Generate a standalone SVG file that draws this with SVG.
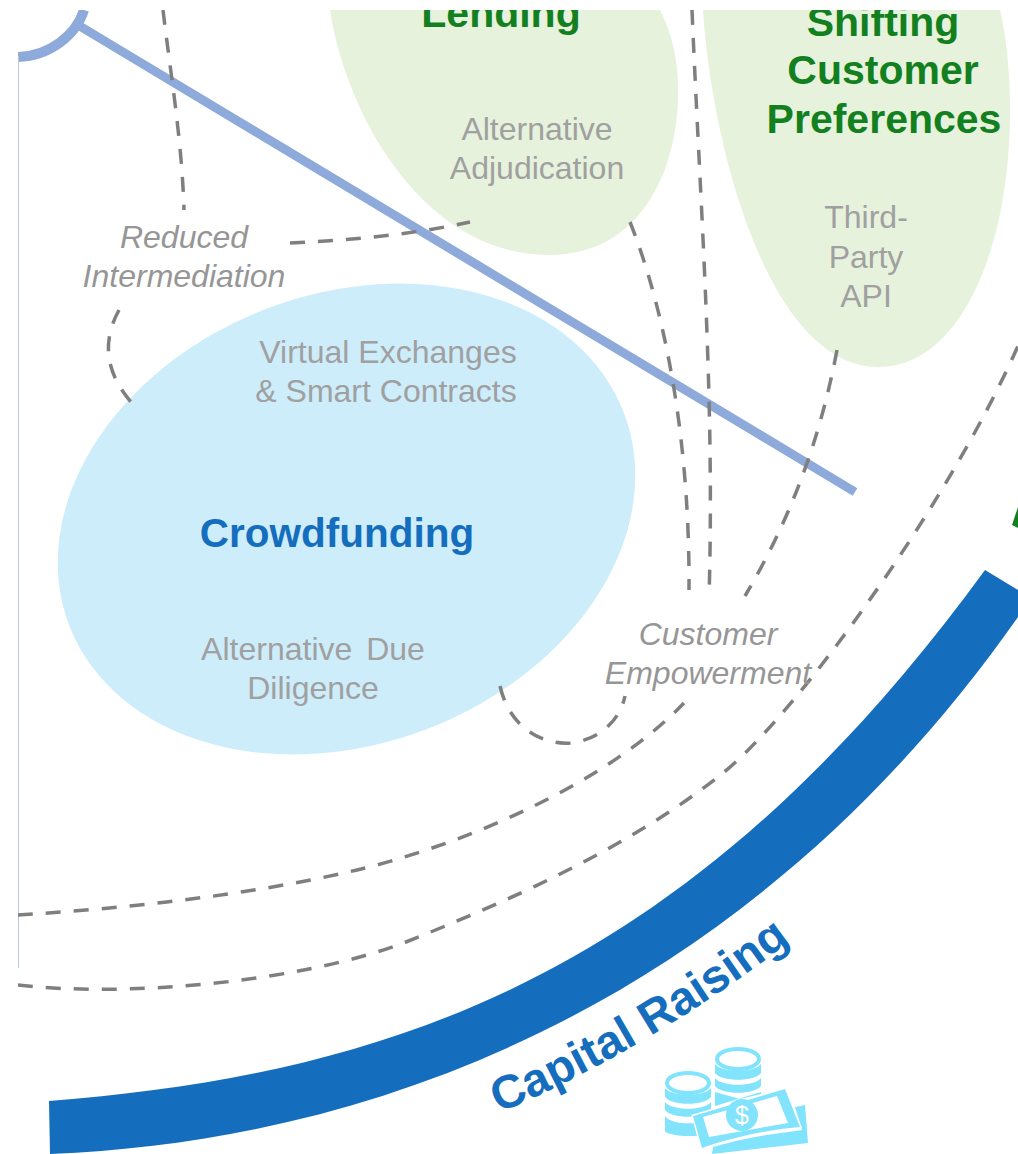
<svg xmlns="http://www.w3.org/2000/svg" width="1018" height="1154" viewBox="0 0 1018 1154">
<style>
.lbl{font-family:"Liberation Sans",Arial,sans-serif;font-size:32px;fill:#a0a0a0;text-anchor:middle}
.it{font-style:italic;fill:#969696}
.gh{font-family:"Liberation Sans",Arial,sans-serif;font-size:41px;font-weight:bold;fill:#13801f;text-anchor:middle}
.dash{fill:none;stroke:#7f7f7f;stroke-width:3.5;stroke-dasharray:15 13}
.coin{fill:#82e3fd}
</style>
<defs>
<clipPath id="frame"><rect x="18" y="10" width="1000" height="1144"/></clipPath>
<path id="capPath" d="M499 1113Q655 1047 812 925"/>
</defs>
<rect width="1018" height="1154" fill="#fff"/>
<g clip-path="url(#frame)">
<g id="band"><path d="M49 1101C389 1074 688 978 985 570L1018 590V617C760 985 400 1140 50 1154Z" fill="#156dbd"/>
<path d="M1018 507L1012 525 1018 528Z" fill="#13801f"/></g>
<g id="frame-lines" fill="none">
<path d="M18 57C50 56 76 35 84 10" stroke="#8eaadb" stroke-width="10"/>
<path d="M18 56V968" stroke="#b4c7e7" stroke-width="2"/>
<path d="M78 25L855 492" stroke="#8eaadb" stroke-width="9"/>
</g>
<g id="node-lending"><path d="M330 10C345 110 420 255 550 255C640 255 680 170 678 85C677 50 668 25 660 10Z" fill="#e7f2dc"/>
<text class="gh" x="501" y="27">Lending</text>
<text class="lbl" x="537" y="140">Alternative</text><text class="lbl" x="537" y="179">Adjudication</text></g>
<g id="node-preferences"><path d="M703 10C712 150 770 367 878 367C960 367 1010 250 1010 110C1010 70 1006 35 1000 10Z" fill="#e7f2dc"/>
<text class="gh" x="883" y="36">Shifting</text><text class="gh" x="883" y="84">Customer</text><text class="gh" x="884" y="133">Preferences</text>
<text class="lbl" x="866" y="228">Third-</text><text class="lbl" x="866" y="268">Party</text><text class="lbl" x="866" y="307">API</text></g>
<g id="node-crowdfunding"><ellipse cx="346.500" cy="519" rx="297" ry="225" transform="rotate(-21 346.500 519)" fill="#cdedfb"/>
<text class="lbl" x="388" y="363">Virtual Exchanges</text><text class="lbl" x="386" y="402">&amp; Smart Contracts</text>
<text font-family="Liberation Sans,Arial,sans-serif" font-size="40.500" font-weight="bold" fill="#156dbd" text-anchor="middle" x="337" y="547">Crowdfunding</text>
<text class="lbl" x="313" y="660" word-spacing="5">Alternative Due</text><text class="lbl" x="313" y="699">Diligence</text></g>
<g id="connectors">
<path class="dash" d="M163 10C170 70 182 140 184 210"/>
<path class="dash" d="M290 243C350 240 410 235 470 222"/>
<path class="dash" d="M119 310C100 345 108 375 131 402"/>
<path class="dash" d="M630 222C665 310 690 440 689 590"/>
<path class="dash" d="M692 10C700 200 715 400 709 597"/>
<path class="dash" d="M837 350C820 440 790 520 745 596"/>
<path class="dash" d="M500 686C510 730 545 745 570 743C600 740 620 720 625 696"/>
<path class="dash" d="M18 915C130 908 250 895 357 870C450 848 600 790 684 703"/>
<path class="dash" d="M18 985C120 997 296 984 406 942C516 898 633 845 723 773C795 715 945 510 1018 346"/>
</g>
<g id="label-reduced"><text class="lbl it" x="184" y="248">Reduced</text><text class="lbl it" x="184" y="287">Intermediation</text></g>
<g id="label-empowerment"><text class="lbl it" x="708" y="645">Customer</text><text class="lbl it" x="708" y="684">Empowerment</text></g>
<g id="capital-raising"><text font-family="Liberation Sans,Arial,sans-serif" font-size="47" font-weight="bold" fill="#156dbd"><textPath href="#capPath">Capital Raising</textPath></text>
<g id="money-icon" class="coin">
<ellipse cx="738" cy="1059" rx="21" ry="10" fill="none" stroke="#82e3fd" stroke-width="4"/>
<path d="M715 1064c6 9 40 9 46 0v9c-6 9-40 9-46 0zM715 1078c6 9 40 9 46 0v8c-6 9-40 9-46 0zM715 1092l25 7 21-5v-2l-46 14z"/>
<ellipse cx="688" cy="1083" rx="21" ry="10" fill="none" stroke="#82e3fd" stroke-width="4"/>
<path d="M665 1088c6 9 40 9 46 0v9c-6 9-40 9-46 0zM665 1102c6 9 40 9 46 0v8c-6 9-40 9-46 0zM665 1116c6 9 30 8 36 6l3 13c-14 2-36 1-39-4z"/>
<path d="M805 1105L808 1143 712 1154 713 1147C750 1136 775 1134 802 1130L795 1107Z"/>
<path fill-rule="evenodd" stroke="#fff" stroke-width="3" paint-order="stroke" d="M693 1116L785 1089 800 1127C765 1130 730 1138 702 1148ZM703 1117L709 1137 788 1123 777 1096Z"/>
<circle cx="742" cy="1115" r="16"/>
<text x="742" y="1124" font-family="Liberation Sans,Arial,sans-serif" font-size="25" fill="#fff" text-anchor="middle">$</text>
</g></g>
</g>
</svg>
